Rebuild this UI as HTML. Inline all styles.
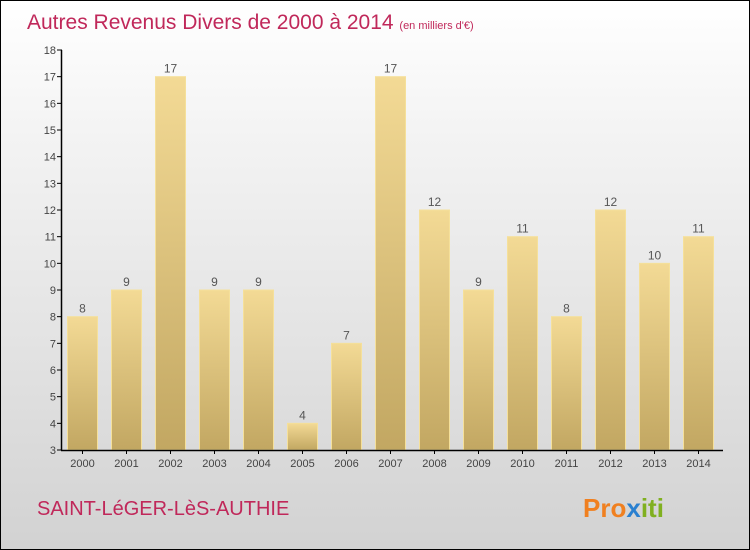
<!DOCTYPE html>
<html><head><meta charset="utf-8"><style>
body{margin:0}
#wrap{position:relative;width:748px;height:548px;border:1px solid #000;background:linear-gradient(#ffffff,#f3f3f3 25%,#e4e4e4 60%,#d2d2d2);font-family:"Liberation Sans",sans-serif;overflow:hidden}
</style></head><body>
<div id="wrap">
<svg width="748" height="548">
<defs><linearGradient id="bg" x1="0" y1="0" x2="0" y2="1"><stop offset="0" stop-color="#f3da95"/><stop offset="1" stop-color="#c2a762"/></linearGradient></defs>
<text x="26" y="28" font-size="21" fill="#c0285a">Autres Revenus Divers de 2000 à 2014 <tspan font-size="11">(en milliers d'€)</tspan></text>
<g id="plot"></g>
<text x="36" y="514" font-size="20" fill="#c0285a">SAINT-LéGER-LèS-AUTHIE</text>
<text x="582" y="516" font-size="26" font-weight="bold"><tspan fill="#f08020">Pro</tspan><tspan fill="#2a80d0">x</tspan><tspan fill="#80b020">iti</tspan></text>
</svg></div>
<script>
const years=["2000","2001","2002","2003","2004","2005","2006","2007","2008","2009","2010","2011","2012","2013","2014"];
const values=[8,9,17,9,9,4,7,17,12,9,11,8,12,10,11];
const ticks=[3,4,5,6,7,8,9,10,11,12,13,14,15,16,17,18];
const NS="http://www.w3.org/2000/svg";
const g=document.getElementById('plot');
const y=v=>449-(v-3)*(400/15);
const x=i=>81.5+i*44;
function el(t,a){const e=document.createElementNS(NS,t);for(const k in a)e.setAttribute(k,a[k]);g.appendChild(e);return e;}
ticks.forEach(t=>{
 const l=el('line',{x1:56,x2:61,y1:y(t),y2:y(t),stroke:'#000'});
 
 
 const tx=el('text',{x:55,y:y(t)+4,'font-size':11,fill:'#444','text-anchor':'end'});tx.textContent=t;
 
 
});
values.forEach((v,i)=>{
 const r=el('rect',{x:x(i)-15,y:y(v),width:30,height:y(3)-y(v),fill:'url(#bg)',stroke:'#f5e09a','stroke-width':1});
 
 
 const vl=el('text',{x:x(i),y:y(v)-4,'font-size':12,fill:'#555','text-anchor':'middle'});vl.textContent=v;
 
 
 const tk=el('line',{x1:x(i),x2:x(i),y1:449,y2:453,stroke:'#000'});
 
 
 const xl=el('text',{x:x(i),y:466,'font-size':11,fill:'#444','text-anchor':'middle'});xl.textContent=years[i];
 
 
});
const ya=el('line',{x1:60.5,x2:60.5,y1:49,y2:449.5,stroke:'#000','stroke-width':1.5});


const xa=el('line',{x1:60,x2:722,y1:449.5,y2:449.5,stroke:'#000','stroke-width':1.5});


</script>
</body></html>
